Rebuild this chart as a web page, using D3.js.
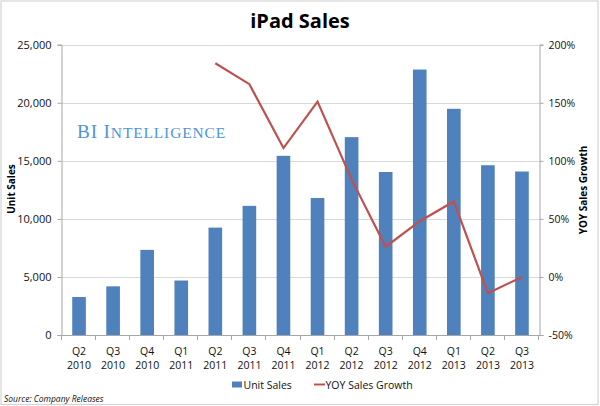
<!DOCTYPE html>
<html>
<head>
<meta charset="utf-8">
<script src="https://cdn.jsdelivr.net/npm/d3@7"></script>
<style>
  html, body { margin: 0; padding: 0; background: #fff; }
  svg { display: block; font-family: "Open Sans", sans-serif; }
</style>
</head>
<body>
<svg id="chart" width="600" height="406"></svg>
<script>
const quarters = ["Q2","Q3","Q4","Q1","Q2","Q3","Q4","Q1","Q2","Q3","Q4","Q1","Q2","Q3"];
const years    = ["2010","2010","2010","2011","2011","2011","2011","2012","2012","2012","2012","2013","2013","2013"];
const unitSales = [3270, 4190, 7330, 4690, 9250, 11120, 15430, 11800, 17040, 14040, 22860, 19480, 14620, 14080];
const yoyGrowth = [null, null, null, null, 184, 166, 111, 151, 84, 26, 48, 65, -14, 0];
const leftTicks = [0, 5000, 10000, 15000, 20000, 25000];
const rightTicks = [-50, 0, 50, 100, 150, 200];

const svg = d3.select("#chart");
const L = 62, R = 539, T = 44.7, B = 335;
const cats = quarters.map((q, i) => i);

const x = d3.scaleBand().domain(cats).range([L, R]).paddingInner(0.6).paddingOuter(0.3);
const y = d3.scaleLinear().domain([0, 25000]).range([B, T]);
const y2 = d3.scaleLinear().domain([-50, 200]).range([B, T]);

// outer border
svg.append("rect").attr("x", 1).attr("y", 1).attr("width", 597).attr("height", 403.5)
  .attr("fill", "none").attr("stroke", "#d4d4d4").attr("stroke-width", 1.2);

// title
svg.append("text").attr("x", 300).attr("y", 28).attr("text-anchor", "middle")
  .attr("font-size", 20).attr("font-weight", "bold").attr("fill", "#000").text("iPad Sales");

// gridlines
svg.append("g").selectAll("line").data(leftTicks.slice(1)).join("line")
  .attr("x1", L).attr("x2", R).attr("y1", d => Math.round(y(d)) + 0.5).attr("y2", d => Math.round(y(d)) + 0.5)
  .attr("stroke", "#d9d9d9").attr("stroke-width", 1);

// watermark (small caps drawn explicitly)
const wm = svg.append("text").attr("x", 77).attr("y", 137.5)
  .attr("font-family", "'Liberation Serif', 'DejaVu Serif', serif")
  .attr("fill", "#4f93d8").attr("textLength", 149).attr("lengthAdjust", "spacingAndGlyphs")
  .attr("letter-spacing", 0.8);
wm.append("tspan").attr("font-size", 18).text("BI I");
wm.append("tspan").attr("font-size", 14.5).text("NTELLIGENCE");

// bars
svg.append("g").selectAll("rect").data(unitSales).join("rect")
  .attr("x", (d, i) => x(i)).attr("width", x.bandwidth())
  .attr("y", d => y(d)).attr("height", d => B - y(d))
  .attr("fill", "#4f81bd");

// left axis
const gl = svg.append("g").attr("transform", `translate(${L - 0.5},0)`)
  .call(d3.axisLeft(y).tickValues(leftTicks).tickSize(4).tickPadding(6).tickFormat(d3.format(",")));
gl.select(".domain").attr("stroke", "#a6a6a6");
gl.selectAll(".tick line").attr("stroke", "#a6a6a6");
gl.selectAll(".tick text").attr("font-size", 11).attr("font-family", "'Open Sans', sans-serif").attr("fill", "#111");

// right axis
const gr = svg.append("g").attr("transform", `translate(${R + 0.5},0)`)
  .call(d3.axisRight(y2).tickValues(rightTicks).tickSize(4).tickPadding(5).tickFormat(d => d + "%"));
gr.select(".domain").attr("stroke", "#a6a6a6");
gr.selectAll(".tick line").attr("stroke", "#a6a6a6");
gr.selectAll(".tick text").attr("font-size", 10.5).attr("font-family", "'Open Sans', sans-serif").attr("fill", "#111");

// bottom axis line + ticks between categories
const step = x.step();
const bounds = d3.range(quarters.length + 1).map(i => L + i * step);
svg.append("line").attr("x1", L).attr("x2", R + 4).attr("y1", B + 0.5).attr("y2", B + 0.5).attr("stroke", "#a6a6a6");
svg.append("g").selectAll("line").data(bounds).join("line")
  .attr("x1", d => Math.round(d) - 0.5).attr("x2", d => Math.round(d) - 0.5)
  .attr("y1", B).attr("y2", B + 5).attr("stroke", "#a6a6a6");

// x labels (two separate lines)
svg.append("g").selectAll("text").data(cats).join("text")
  .attr("x", i => x(i) + x.bandwidth() / 2).attr("y", 355).attr("text-anchor", "middle")
  .attr("font-size", 10.5).attr("fill", "#111").text(i => quarters[i]);
svg.append("g").selectAll("text").data(cats).join("text")
  .attr("x", i => x(i) + x.bandwidth() / 2).attr("y", 368.5).attr("text-anchor", "middle")
  .attr("font-size", 10.5).attr("fill", "#111").text(i => years[i]);

// line
const line = d3.line().defined(d => d != null)
  .x((d, i) => x(i) + x.bandwidth() / 2).y(d => y2(d));
svg.append("path").datum(yoyGrowth).attr("d", line)
  .attr("fill", "none").attr("stroke", "#c0504d").attr("stroke-width", 2.2).attr("stroke-linejoin", "miter");

// axis titles
svg.append("text").attr("transform", "translate(15,189) rotate(-90)").attr("text-anchor", "middle")
  .attr("font-size", 10).attr("font-weight", "bold").text("Unit Sales");
svg.append("text").attr("transform", "translate(587,190) rotate(-90)").attr("text-anchor", "middle")
  .attr("font-size", 10).attr("font-weight", "bold").text("YOY Sales Growth");

// legend
svg.append("rect").attr("x", 232).attr("y", 381.5).attr("width", 10).attr("height", 6).attr("fill", "#4f81bd");
svg.append("text").attr("x", 243.5).attr("y", 388.5).attr("font-size", 10.5).attr("fill", "#111").text("Unit Sales");
svg.append("line").attr("x1", 314).attr("x2", 325).attr("y1", 384.5).attr("y2", 384.5)
  .attr("stroke", "#c0504d").attr("stroke-width", 2);
svg.append("text").attr("x", 325.5).attr("y", 388.5).attr("font-size", 10.5).attr("fill", "#111").text("YOY Sales Growth");

// source
svg.append("text").attr("x", 4).attr("y", 402).attr("font-size", 8.5).attr("font-style", "italic")
  .attr("fill", "#111").text("Source: Company Releases");
</script>
</body>
</html>
